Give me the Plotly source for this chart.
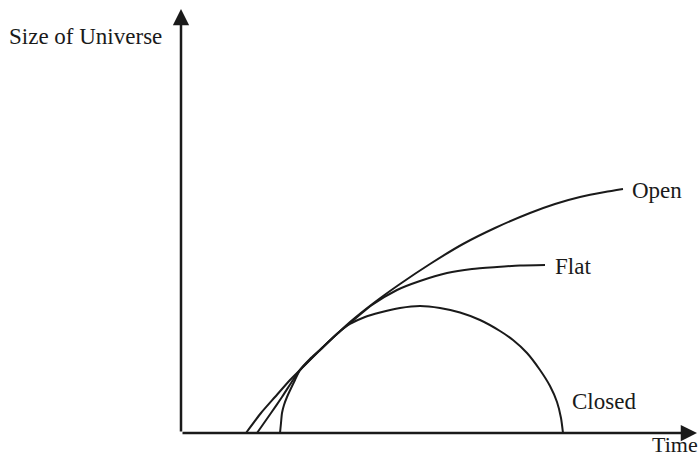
import plotly.graph_objects as go

# Sketch of the expansion of the universe for three geometries.
# Time runs along x, size of the universe along y (arbitrary units).
open_time = [246, 261, 275, 290, 300, 320, 338, 350, 375, 400, 430, 463,
             495, 530, 555, 580, 605, 623]
open_size = [0, 20, 36, 53, 63, 83, 100, 111, 131, 149, 169, 189,
             205, 220, 229, 236, 241, 244]

flat_time = [257, 271, 282, 293, 300, 320, 338, 350, 372, 397, 420, 447,
             472, 497, 520, 545]
flat_size = [0, 20, 36, 53, 63, 83, 100, 110, 128, 143, 152, 160,
             164, 166, 167.5, 168]

closed_time = [280, 281, 282, 284, 287, 295, 300, 310, 320, 338, 350, 365,
               380, 400, 420, 440, 460, 480, 500, 513, 527, 540, 550, 557,
               561, 563]
closed_size = [0, 10, 20, 28, 36, 53, 63, 74, 83, 100, 109, 116,
               120.5, 125, 127, 125, 120.5, 113, 102, 93, 80, 63, 47, 31,
               15, 0]

curve_labels = ["Open", "Flat", "Closed"]
axis_titles = ["Time", "Size of Universe"]

ink = "#1a1a1a"
font = dict(family="Liberation Serif", size=23, color=ink)

fig = go.Figure()
for t, s in [(open_time, open_size), (flat_time, flat_size), (closed_time, closed_size)]:
    fig.add_trace(go.Scatter(x=t, y=s, mode="lines",
                             line=dict(color=ink, width=2, shape="spline", smoothing=0.6),
                             hoverinfo="skip", showlegend=False))

# Axes drawn as arrows from the origin
origin_x, origin_y = 181, 0
fig.add_annotation(x=697, y=origin_y, ax=origin_x, ay=origin_y, xref="x", yref="y",
                   axref="x", ayref="y", text="", showarrow=True, arrowhead=2,
                   arrowsize=1.3, arrowwidth=2.5, arrowcolor=ink, standoff=0)
fig.add_annotation(x=origin_x, y=424, ax=origin_x, ay=origin_y, xref="x", yref="y",
                   axref="x", ayref="y", text="", showarrow=True, arrowhead=2,
                   arrowsize=1.3, arrowwidth=2.5, arrowcolor=ink, standoff=0)

# Curve labels next to the ends of the curves
fig.add_annotation(x=open_time[-1] + 7, y=open_size[-1] - 1, text=curve_labels[0],
                   showarrow=False, xanchor="left", yanchor="middle", font=font)
fig.add_annotation(x=flat_time[-1] + 8, y=flat_size[-1] - 1, text=curve_labels[1],
                   showarrow=False, xanchor="left", yanchor="middle", font=font)
fig.add_annotation(x=570, y=32, text=curve_labels[2],
                   showarrow=False, xanchor="left", yanchor="middle", font=font)

# Axis titles
fig.add_annotation(x=1, y=0, xref="paper", yref="paper", text=axis_titles[0],
                   showarrow=False, xanchor="right", yanchor="bottom", borderpad=0,
                   xshift=-1,
                   font=dict(family="Liberation Serif", size=22, color=ink))
fig.add_annotation(x=7, y=397, text=axis_titles[1], showarrow=False,
                   xanchor="left", yanchor="middle", font=font)

fig.update_layout(
    width=700, height=458,
    margin=dict(l=0, r=0, t=0, b=0),
    paper_bgcolor="white", plot_bgcolor="white",
    xaxis=dict(range=[0, 700], visible=False, fixedrange=True),
    yaxis=dict(range=[-25, 433], visible=False, fixedrange=True),
)

fig.write_html("out.html")
